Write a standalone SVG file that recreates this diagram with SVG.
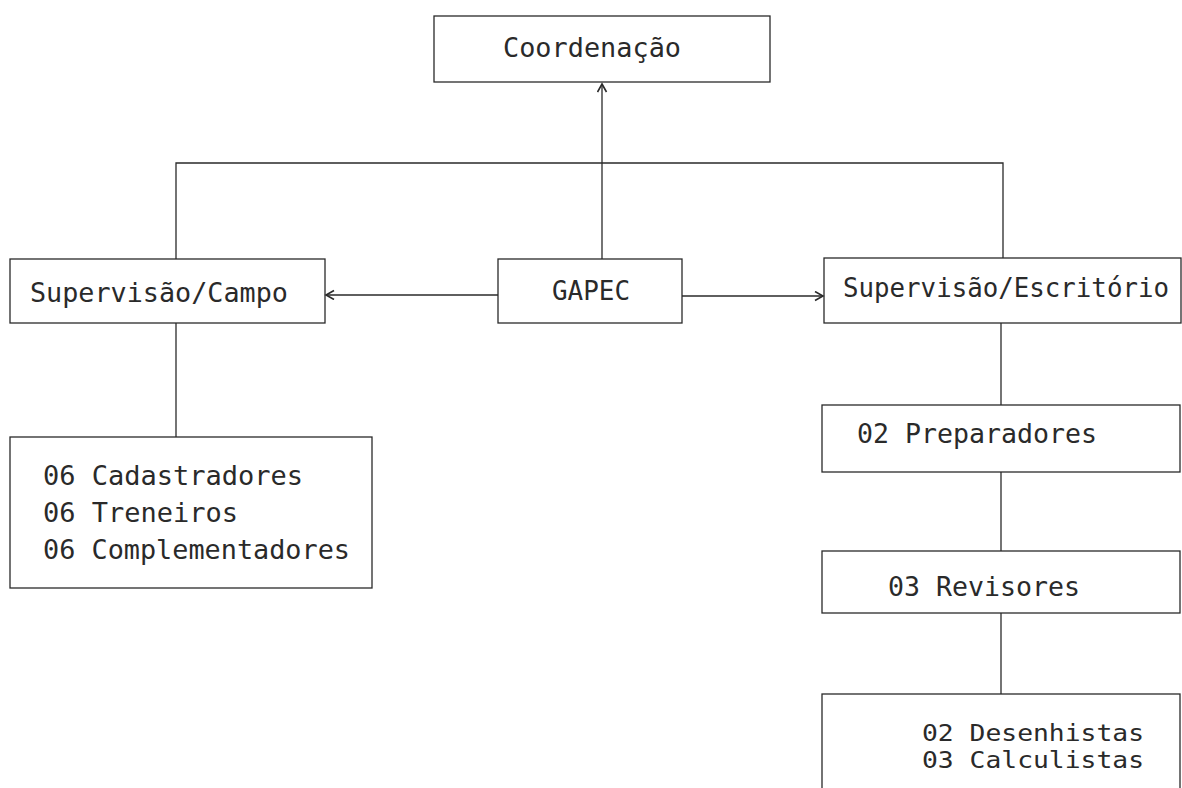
<svg xmlns="http://www.w3.org/2000/svg" width="1182" height="788" viewBox="0 0 1182 788">
  <style>
    .box { fill: none; stroke: #2a2a2a; stroke-width: 1.3; }
    .lbl { font-family: "DejaVu Sans Mono", "Liberation Mono", monospace; font-size: 27px; fill: #2a2a2a; }
    .sm { font-size: 23px; }
    .se { font-size: 26px; }
    .con { fill: none; stroke: #2a2a2a; stroke-width: 1.3; }
  </style>
  <defs>
    <marker id="arr" markerUnits="userSpaceOnUse" markerWidth="12" markerHeight="12" refX="9" refY="5" orient="auto">
      <path d="M1,0.5 L9,5 L1,9.5" fill="none" stroke="#2a2a2a" stroke-width="1.6"/>
    </marker>
  </defs>
  <rect width="1182" height="788" fill="#ffffff"/>

  <g id="connectors">
    <polyline class="con" points="176,259 176,163 1003,163 1003,258"/>
    <line class="con" x1="602" y1="259" x2="602" y2="84" marker-end="url(#arr)"/>
    <line class="con" x1="498" y1="295" x2="326" y2="295" marker-end="url(#arr)"/>
    <line class="con" x1="682" y1="296" x2="823" y2="296" marker-end="url(#arr)"/>
    <line class="con" x1="176" y1="323" x2="176" y2="437"/>
    <line class="con" x1="1001" y1="323" x2="1001" y2="405"/>
    <line class="con" x1="1001" y1="472" x2="1001" y2="551"/>
    <line class="con" x1="1001" y1="613" x2="1001" y2="694"/>
  </g>

  <g id="coordenacao">
    <rect class="box" x="434" y="16" width="336" height="66"/>
    <text class="lbl" x="503" y="57" textLength="178" lengthAdjust="spacingAndGlyphs">Coordenação</text>
  </g>

  <g id="supervisao-campo">
    <rect class="box" x="10" y="259" width="315" height="64"/>
    <text class="lbl" x="30" y="302" textLength="258" lengthAdjust="spacingAndGlyphs">Supervisão/Campo</text>
  </g>

  <g id="gapec">
    <rect class="box" x="498" y="259" width="184" height="64"/>
    <text class="lbl" x="552" y="300" textLength="78" lengthAdjust="spacingAndGlyphs">GAPEC</text>
  </g>

  <g id="supervisao-escritorio">
    <rect class="box" x="824" y="258" width="357" height="65"/>
    <text class="lbl se" x="843" y="297" textLength="326" lengthAdjust="spacingAndGlyphs">Supervisão/Escritório</text>
  </g>

  <g id="campo-equipe">
    <rect class="box" x="10" y="437" width="362" height="151"/>
    <text class="lbl" x="43" y="485" textLength="260" lengthAdjust="spacingAndGlyphs">06 Cadastradores</text>
    <text class="lbl" x="43" y="522" textLength="195" lengthAdjust="spacingAndGlyphs">06 Treneiros</text>
    <text class="lbl" x="43" y="559" textLength="307" lengthAdjust="spacingAndGlyphs">06 Complementadores</text>
  </g>

  <g id="preparadores">
    <rect class="box" x="822" y="405" width="358" height="67"/>
    <text class="lbl" x="857" y="443" textLength="240" lengthAdjust="spacingAndGlyphs">02 Preparadores</text>
  </g>

  <g id="revisores">
    <rect class="box" x="822" y="551" width="358" height="62"/>
    <text class="lbl" x="888" y="596" textLength="192" lengthAdjust="spacingAndGlyphs">03 Revisores</text>
  </g>

  <g id="desenhistas-calculistas">
    <rect class="box" x="822" y="694" width="358" height="110"/>
    <text class="lbl sm" x="922" y="741" textLength="222" lengthAdjust="spacingAndGlyphs">02 Desenhistas</text>
    <text class="lbl sm" x="922" y="768" textLength="222" lengthAdjust="spacingAndGlyphs">03 Calculistas</text>
  </g>
</svg>
